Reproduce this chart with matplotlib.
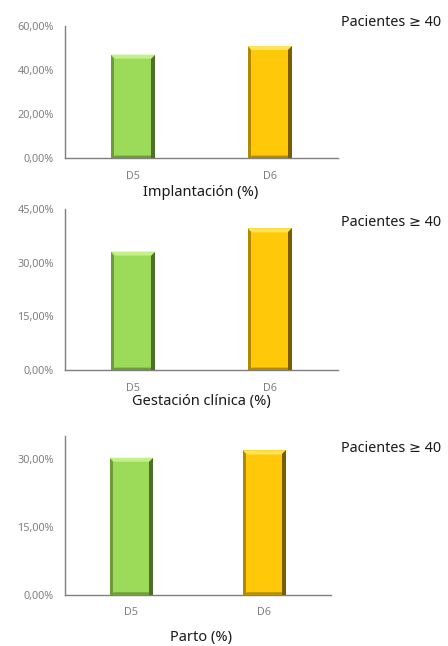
import matplotlib
matplotlib.use('Agg')
import matplotlib.pyplot as plt
from matplotlib.patches import Polygon
from matplotlib.ticker import FuncFormatter

plt.rcParams['font.family'] = ['Noto Sans', 'DejaVu Sans']

categories = ['D5', 'D6']
implantacion = [47.0, 50.9]
gestacion = [33.1, 39.6]
parto = [30.2, 31.8]

titles = ['Implantación (%)', 'Gestación clínica (%)', 'Parto (%)']
group_label = 'Pacientes ≥ 40'

face = ['#9cda5a', '#ffc90a']
light = ['#c4f08a', '#ffe35a']
dark = ['#4f6e2c', '#7a5d00']
mid = ['#6f9a3c', '#b08a00']


def pct(v, pos):
    return f'{v:.2f}%'.replace('.', ',')


def bevel_bar(ax, x, h, w, i, bpx=4):
    # flat bar plus four bevel strips for the raised look
    ax.bar(x, h, w, color=face[i], edgecolor='none', zorder=2)
    inv = ax.transData.inverted()
    p0 = inv.transform((0, 0))
    p1 = inv.transform((bpx, bpx))
    bx, by = p1[0] - p0[0], p1[1] - p0[1]
    x0, x1 = x - w / 2, x + w / 2
    top = [(x0, h), (x1, h), (x1 - bx, h - by), (x0 + bx, h - by)]
    right = [(x1, h), (x1, 0), (x1 - bx, 0), (x1 - bx, h - by)]
    left = [(x0, h), (x0, 0), (x0 + bx * 0.7, 0), (x0 + bx * 0.7, h - by)]
    bottom = [(x0, 0), (x1, 0), (x1 - bx, by * 0.6), (x0 + bx, by * 0.6)]
    ax.add_patch(Polygon(left, closed=True, color=mid[i], zorder=3, lw=0))
    ax.add_patch(Polygon(bottom, closed=True, color=mid[i], zorder=3, lw=0))
    ax.add_patch(Polygon(top, closed=True, color=light[i], zorder=3, lw=0))
    ax.add_patch(Polygon(right, closed=True, color=dark[i], zorder=4, lw=0))


fig = plt.figure(figsize=(4.48, 6.46), dpi=100)

panels = [
    (implantacion, [0.145, 0.7554, 0.6094, 0.2043], 60, [0, 20, 40, 60]),
    (gestacion, [0.145, 0.4272, 0.6094, 0.2493], 45, [0, 15, 30, 45]),
    (parto, [0.145, 0.0794, 0.5938, 0.2457], 35, [0, 15, 30]),
]
title_y = [192, 402, 637]
group_y = [22, 222, 448]

for k, (vals, rect, ymax, ticks) in enumerate(panels):
    ax = fig.add_axes(rect)
    ax.set_xlim(-0.5, 1.5)
    ax.set_ylim(0, ymax)
    ax.set_yticks(ticks)
    ax.yaxis.set_major_formatter(FuncFormatter(pct))
    ax.set_xticks(range(len(categories)))
    ax.set_xticklabels(categories)
    ax.tick_params(length=0, labelsize=7.8, colors='#7f7f7f', pad=8)
    ax.tick_params(axis='x', pad=9)
    for s in ['top', 'right']:
        ax.spines[s].set_visible(False)
    for s in ['left', 'bottom']:
        ax.spines[s].set_color('#7f7f7f')
        ax.spines[s].set_linewidth(1.0)
    for i, v in enumerate(vals):
        bevel_bar(ax, i, v, 0.32, i)
    fig.text(201 / 448, 1 - title_y[k] / 646, titles[k], ha='center',
             va='center', fontsize=10.5, color='#1a1a1a')
    fig.text(341 / 448, 1 - group_y[k] / 646, group_label, ha='left',
             va='center', fontsize=10.3, color='#1a1a1a')

fig.savefig('out.png', dpi=100)
